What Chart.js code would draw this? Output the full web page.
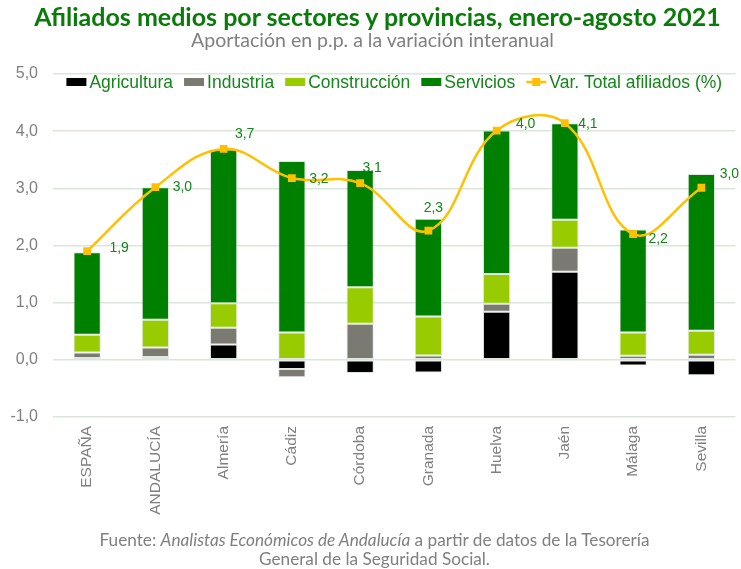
<!DOCTYPE html>
<html>
<head>
<meta charset="utf-8">
<script src="https://cdn.jsdelivr.net/npm/chart.js@4"></script>
<style>
  html,body{margin:0;padding:0;background:#fff;}
  #wrap{position:relative;width:741px;height:569px;overflow:hidden;}
  #c{position:absolute;left:0;top:0;}
  .t{position:absolute;white-space:nowrap;text-align:center;}
  #title{left:7px;width:741px;top:1px;font:bold 25px Lato, sans-serif;color:#0a7a0a;letter-spacing:0px;}
  #sub{left:2px;width:741px;top:28px;font:19.5px Lato, sans-serif;color:#808080;}
  #foot{left:4px;width:741px;top:530px;font:17.2px Lato, sans-serif;color:#7f7f7f;line-height:19px;}
</style>
</head>
<body>
<div id="wrap">
<canvas id="c" width="741" height="569"></canvas>
<div class="t" id="title">Afiliados medios por sectores y provincias, enero-agosto 2021</div>
<div class="t" id="sub">Aportación en p.p. a la variación interanual</div>
<div class="t" id="foot">Fuente: <i>Analistas Económicos de Andalucía</i> a partir de datos de la Tesorería<br>General de la Seguridad Social.</div>
</div>
<script>
const categories = ['ESPAÑA','ANDALUCÍA','Almería','Cádiz','Córdoba','Granada','Huelva','Jaén','Málaga','Sevilla'];
const agricultura  = [0.03, 0.05, 0.27, -0.16, -0.23, -0.22, 0.84, 1.54, -0.10, -0.27];
const industria    = [0.10, 0.165, 0.29, -0.145, 0.63, 0.075, 0.14, 0.42, 0.07, 0.09];
const construccion = [0.31, 0.485, 0.43, 0.48, 0.64, 0.685, 0.52, 0.49, 0.41, 0.42];
const servicios    = [1.44, 2.32, 2.69, 3.00, 2.05, 1.71, 2.51, 1.69, 1.80, 2.74];
const totalVar     = [1.90, 3.02, 3.69, 3.18, 3.09, 2.26, 4.01, 4.14, 2.20, 3.01];
const yTicks = [-1, 0, 1, 2, 3, 4, 5];
// label offsets (px) relative to each line point
const labelOffsets = [[32,-3],[27,0],[21,-15],[27,1],[12,-15],[5,-22],[29,-6],[23,1],[25,5],[28,-14]];

const fmt = v => v.toFixed(1).replace('.', ',');
const GREEN_TXT = '#14861a';

const legendPlugin = {
  id: 'customLegend',
  afterDraw(chart) {
    const ctx = chart.ctx;
    const ds = chart.data.datasets;
    ctx.save();
    ctx.font = '17.5px "Liberation Sans", Arial, sans-serif';
    ctx.textBaseline = 'middle';
    const boxW = 20, boxH = 8, gapBT = 3, gapItem = 11;
    const widths = ds.map(d => boxW + gapBT + ctx.measureText(d.label).width);
    const total = widths.reduce((a,b)=>a+b,0) + gapItem*(ds.length-1);
    const ca = chart.chartArea;
    let x = (ca.left + ca.right)/2 - total/2;
    const y = 82;
    ds.forEach((d, i) => {
      if (d.type === 'line') {
        ctx.strokeStyle = d.borderColor; ctx.lineWidth = 2.5;
        ctx.beginPath(); ctx.moveTo(x, y); ctx.lineTo(x+boxW, y); ctx.stroke();
        ctx.fillStyle = d.pointBackgroundColor;
        ctx.fillRect(x+boxW/2-4, y-4, 8, 8);
      } else {
        ctx.fillStyle = d.backgroundColor;
        ctx.fillRect(x, y-boxH/2, boxW, boxH);
      }
      ctx.fillStyle = GREEN_TXT;
      ctx.textAlign = 'left';
      ctx.fillText(d.label, x + boxW + gapBT, y + 1);
      x += widths[i] + gapItem;
    });
    ctx.restore();
  }
};

const labelPlugin = {
  id: 'lineLabels',
  afterDatasetsDraw(chart) {
    const idx = chart.data.datasets.findIndex(d => d.type === 'line');
    const meta = chart.getDatasetMeta(idx);
    const ctx = chart.ctx;
    ctx.save();
    ctx.font = '14px "Liberation Sans", Arial, sans-serif';
    ctx.fillStyle = GREEN_TXT;
    ctx.textAlign = 'center';
    ctx.textBaseline = 'middle';
    meta.data.forEach((pt, i) => {
      const o = labelOffsets[i];
      ctx.fillText(fmt(totalVar[i]), pt.x + o[0], pt.y + o[1]);
    });
    ctx.restore();
  }
};

const barCommon = { type: 'bar', stack: 'bars', barPercentage: 0.4, categoryPercentage: 1.0,
  borderWidth: 1, borderColor: 'rgba(200,212,200,0.55)', borderSkipped: false, order: 2 };

new Chart(document.getElementById('c'), {
  data: {
    labels: categories,
    datasets: [
      Object.assign({ label: 'Agricultura', data: agricultura, backgroundColor: '#000000' }, barCommon),
      Object.assign({ label: 'Industria', data: industria, backgroundColor: '#7a7a72' }, barCommon),
      Object.assign({ label: 'Construcción', data: construccion, backgroundColor: '#99cc00' }, barCommon),
      Object.assign({ label: 'Servicios', data: servicios, backgroundColor: '#008000' }, barCommon),
      { type: 'line', label: 'Var. Total afiliados (%)', data: totalVar, stack: 'line',
        borderColor: '#ffc000', backgroundColor: '#ffc000', borderWidth: 2.5, tension: 0.4,
        pointStyle: 'rect', pointRadius: 5.5, pointBackgroundColor: '#ffc000', pointBorderColor: '#ffc000',
        pointBorderWidth: 0, order: 0 }
    ]
  },
  options: {
    responsive: false,
    animation: false,
    devicePixelRatio: 1,
    layout: { padding: { top: 74, right: 3, left: 0, bottom: 42 } },
    plugins: { legend: { display: false }, tooltip: { enabled: false }, title: { display: false } },
    scales: {
      x: {
        stacked: true,
        grid: { display: false, drawTicks: false },
        border: { display: false },
        ticks: { maxRotation: 90, minRotation: 90, autoSkip: false, padding: 9,
          color: '#7f7f7f', font: { family: '"Liberation Sans", Arial, sans-serif', size: 15.5 } },
        afterFit: s => { s.height = 110; }
      },
      y: {
        stacked: true,
        min: -1, max: 5,
        afterBuildTicks: s => { s.ticks = yTicks.map(v => ({ value: v })); },
        grid: { color: '#d9e6d9', lineWidth: 1.5, drawTicks: false },
        border: { display: false },
        ticks: { padding: 15, color: '#7f7f7f', callback: v => fmt(v),
          font: { family: '"Liberation Sans", Arial, sans-serif', size: 16 } },
        afterFit: s => { s.width = 53; }
      }
    }
  },
  plugins: [legendPlugin, labelPlugin]
});
</script>
</body>
</html>
